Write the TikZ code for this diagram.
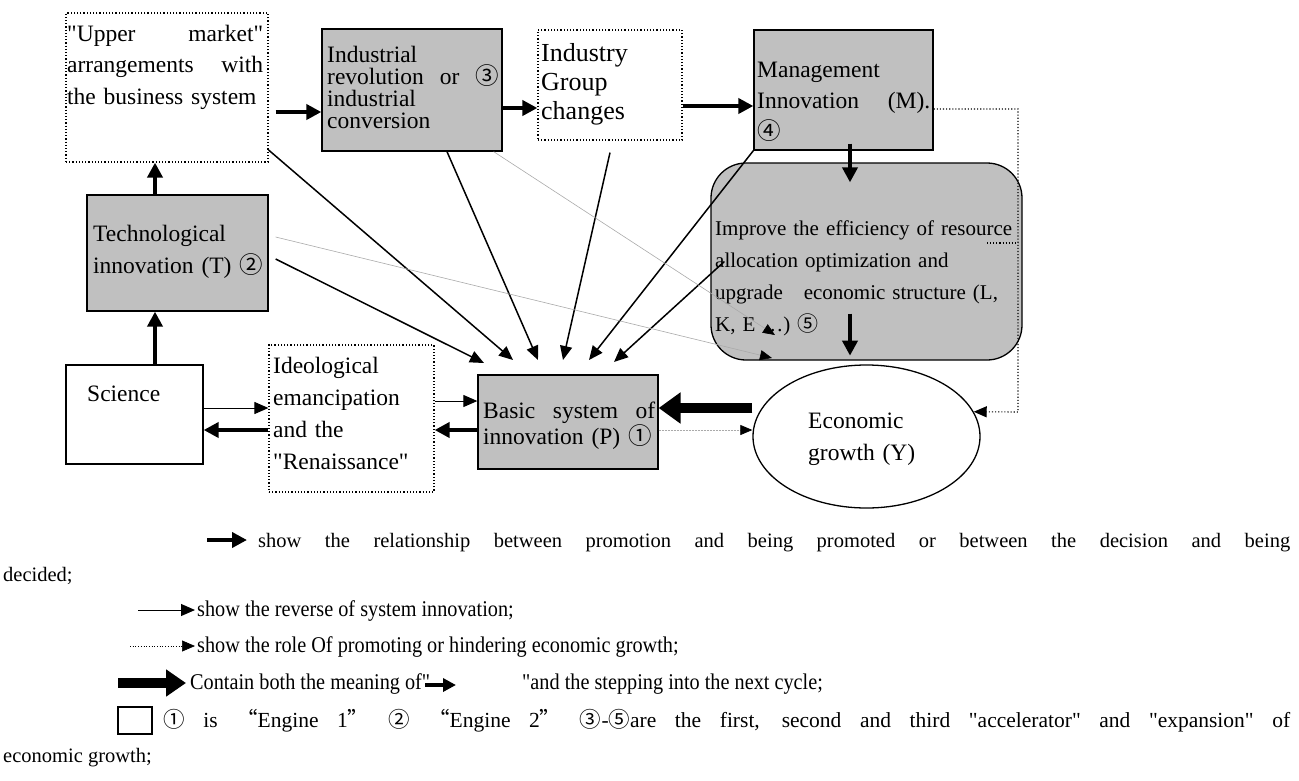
\documentclass[tikz,border=0pt]{standalone}
\usepackage{fontspec}
\setmainfont{Liberation Serif}
\newfontfamily\serif{Liberation Serif}
\newfontfamily\cjk{Noto Sans CJK SC}
\newfontfamily\legfont{Liberation Serif}[FakeStretch=0.9]
\usetikzlibrary{arrows.meta,shapes.geometric}
\definecolor{boxgray}{RGB}{192,192,192}
\definecolor{linegray}{RGB}{170,170,170}
\newcommand{\cn}[1]{{\cjk #1}}
\newcommand{\bxf}[2]{\serif\fontsize{#1}{#2}\selectfont}
\newcommand{\spread}[2]{\makebox[#1][s]{\spaceskip=0pt\xspaceskip=0pt #2}}

\begin{document}
\begin{tikzpicture}[x=1pt,y=-1pt,
    graybox/.style={draw, line width=1.3pt, fill=boxgray, inner sep=0pt},
    dotbox/.style={draw, dotted, line width=1.2pt, inner sep=0pt},
    plainbox/.style={draw, line width=1.3pt, inner sep=0pt},
    txt/.style={inner sep=0pt, anchor=base west, align=left, text width=310pt},
    legtxt/.style={inner sep=0pt, anchor=base west, font=\serif\fontsize{20.5}{20.5}\selectfont},
    legnarrow/.style={inner sep=0pt, anchor=base west, font=\legfont\fontsize{22.5}{22.5}\selectfont},
    promote/.style={-{Triangle[length=15pt,width=15pt]}, line width=3.8pt},
    converge/.style={-{Triangle[length=14pt,width=12pt]}, line width=1.5pt},
    revarrow/.style={-{Triangle[length=14pt,width=12pt]}, line width=1pt},
    grayarrow/.style={-{Triangle[length=12pt,width=10pt,color=black]}, draw=linegray, line width=0.6pt},
    graydot/.style={-{Triangle[length=12pt,width=10pt,color=black]}, draw=linegray, dash pattern=on 2pt off 1pt, line width=0.7pt},
    dotarrow/.style={-{Triangle[length=13pt,width=11pt,color=black]}, dotted, line width=1.1pt},
    cyclearrow/.style={-{Triangle[length=22pt,width=30pt]}, line width=10pt}
  ]
  \useasboundingbox (0,0) rectangle (1299,780);

  % boxes
  \node[dotbox, minimum width=202pt, minimum height=149pt] (upper) at (167,87.5) {};
  \node[graybox, minimum width=180pt, minimum height=122pt] (indrev) at (412,90) {};
  \node[dotbox, minimum width=144pt, minimum height=110pt] (igc) at (610,85) {};
  \node[graybox, minimum width=179pt, minimum height=120pt] (mgmt) at (843.5,90) {};
  \node[graybox, rounded corners=35pt, minimum width=311pt, minimum height=197pt] (alloc) at (866.5,261.5) {};
  \node[draw, ellipse, line width=1.3pt, inner sep=0pt, minimum width=227pt, minimum height=143pt] (growth) at (866.5,436.5) {};
  \node[graybox, minimum width=181pt, minimum height=116pt] (tech) at (177.5,253) {};
  \node[plainbox, minimum width=137pt, minimum height=99pt] (sci) at (134.5,414.5) {};
  \node[dotbox, minimum width=165pt, minimum height=147pt] (ideo) at (351.5,418.5) {};
  \node[graybox, minimum width=180pt, minimum height=94pt] (basic) at (568,422) {};

  % texts
  \node[txt, font=\bxf{23.5}{31.5}] (uppertxt) at (67,41)
    {\spread{196pt}{"Upper market"}\\\spread{196pt}{arrangements with}\\the business system};
  \node[txt, font=\bxf{23.5}{22}] (indrevtxt) at (327,62)
    {Industrial\\\spread{172pt}{revolution or \cn{③}}\\industrial\\conversion};
  \node[txt, font=\bxf{26}{29}] (igctxt) at (541,61) {Industry\\Group\\changes};
  \node[txt, font=\bxf{23.5}{31}] (mgmttxt) at (757,77)
    {Management\\\spread{173pt}{Innovation (M).}\\\cn{④}};
  \node[txt, font=\bxf{21}{32}] (alloctxt) at (715,235)
    {Improve the efficiency of resource\\allocation optimization and\\upgrade\quad economic structure (L,\\K, E …) \cn{⑤}};
  \node[txt, font=\bxf{23.5}{32}] (growthtxt) at (808,428) {Economic\\growth (Y)};
  \node[txt, font=\bxf{23.5}{32}] (techtxt) at (93,241) {Technological\\innovation (T) \cn{②}};
  \node[txt, font=\bxf{23.5}{32}] (scitxt) at (87,401) {Science};
  \node[txt, font=\bxf{23.5}{32}] (ideotxt) at (273,373)
    {Ideological\\emancipation\\and the\\"Renaissance"};
  \node[txt, font=\bxf{23.5}{26}] (basictxt) at (483,418)
    {\spread{172pt}{Basic system of}\\innovation (P) \cn{①}};

  % promotion chain
  \coordinate (col) at (155,0);
  \draw[promote] (sci.north -| col) -- (tech.south -| col);
  \draw[promote] (tech.north -| col) -- (upper.south -| col);
  \draw[promote, shorten <=7pt] (upper.east |- 0,112) -- (indrev.west |- 0,112);
  \draw[promote] (indrev.east |- 0,108) -- (igc.west |- 0,108);
  \draw[promote] (igc.east |- 0,106) -- (mgmt.west |- 0,106);
  \draw[promote] ([xshift=6.5pt,yshift=7pt]mgmt.south) -- ([xshift=-16.5pt,yshift=-20pt]alloc.north);
  \draw[promote] ([xshift=-16.5pt,yshift=47pt]alloc.south) -- ([xshift=-16.5pt,yshift=5pt]alloc.south);
  \draw[dotarrow] (mgmt.east |- 0,109) -| (1018,412) -- (growth.13);
  \draw[dotted, line width=1.1pt] (987,243) -- (1018,243);

  % around the basic system
  \draw[cyclearrow] (growth.west |- 0,408) -- (basic.east |- 0,408);
  \draw[graydot] (basic.east |- 0,430) -- (growth.west |- 0,430);
  \draw[revarrow] (sci.east |- 0,408) -- (ideo.west |- 0,408);
  \draw[promote] (ideo.west |- 0,430) -- (sci.east |- 0,430);
  \draw[revarrow] (ideo.east |- 0,401) -- (basic.west |- 0,401);
  \draw[promote] (basic.west |- 0,430) -- (ideo.east |- 0,430);

  % reverse arrows into the basic system
  \coordinate (p1) at (484,363);
  \coordinate (p2) at (513,360);
  \coordinate (p3) at (538,360);
  \coordinate (p4) at (563,360);
  \coordinate (p5) at (589,360);
  \coordinate (p6) at (614,362);
  \draw[converge] ([xshift=7pt,yshift=-6pt]tech.east) -- (p1);
  \draw[converge] ([yshift=-62.5pt]upper.east) -- (p2);
  \draw[converge] ([xshift=35pt]indrev.south) -- (p3);
  \draw[converge] ([yshift=-12pt]igc.south) -- (p4);
  \draw[converge] (mgmt.south west) -- (p5);
  \draw[converge] ([xshift=14pt]alloc.west) -- (p6);

  % role on growth
  \coordinate (q1) at (775,335);
  \coordinate (q2) at (772,358);
  \draw[grayarrow] ([xshift=-9pt]indrev.south east) -- (q1);
  \draw[grayarrow] ([xshift=7pt,yshift=16pt]tech.east) -- (q2);

  % legend
  \coordinate (l1a) at (207,540); \coordinate (l1b) at (247,540);
  \coordinate (l2a) at (138,610); \coordinate (l2b) at (195,610);
  \coordinate (l3a) at (130,646); \coordinate (l3b) at (195,646);
  \coordinate (l4a) at (118,683); \coordinate (l4b) at (186,683);
  \draw[promote] (l1a) -- (l1b);
  \draw[revarrow] (l2a) -- (l2b);
  \draw[dotarrow, line width=0.7pt] (l3a) -- (l3b);
  \draw[-{Triangle[length=20pt,width=26pt]}, line width=10pt] (l4a) -- (l4b);
  \node[legtxt] (leg1) at (258,547)
    {\spread{1032pt}{show the relationship between promotion and being promoted or between the decision and being}};
  \node[legtxt] (leg1b) at (3,581) {decided;};
  \node[legnarrow] (leg2) at (197,616) {show the reverse of system innovation;};
  \node[legnarrow] (leg3) at (197,652) {show the role Of promoting or hindering economic growth;};
  \node[legnarrow] (leg4) at (190,689) {Contain both the meaning of"};
  \coordinate (l5b) at (456,685);
  \draw[-{Triangle[length=13pt,width=13pt]}, line width=3.5pt] ([xshift=-5pt]leg4.east |- 0,685) -- (l5b);
  \node[legnarrow] (leg4b) at (522,689) {"and the stepping into the next cycle;};
  \node[plainbox, line width=1.2pt, minimum width=34pt, minimum height=27pt] (legbox) at (135,720.5) {};
  \node[legtxt, font=\serif\fontsize{21.5}{21.5}\selectfont] (leg5) at (163,727)
    {\spread{1127pt}{\cn{①} is {\cjk “}Engine 1{\cjk ”} \cn{②} {\cjk “}Engine 2{\cjk ”} \cn{③}-\cn{⑤}are the first, second and third "accelerator" and "expansion" of}};
  \node[legtxt] (leg5b) at (3,762) {economic growth;};
\end{tikzpicture}
\end{document}
